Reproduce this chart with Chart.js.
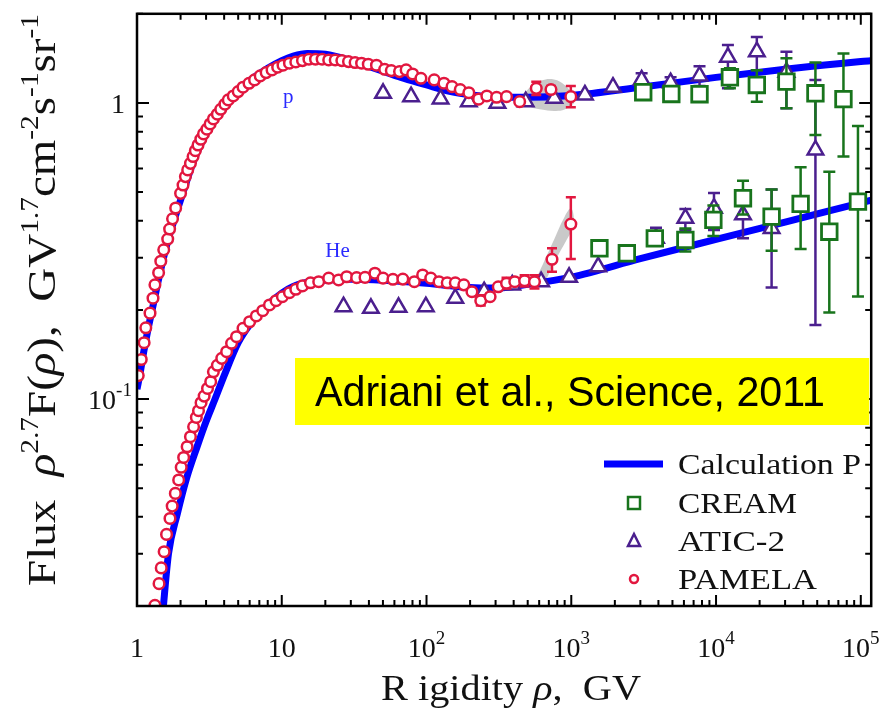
<!DOCTYPE html>
<html>
<head>
<meta charset="utf-8">
<title>Proton and helium flux</title>
<script src="https://cdn.jsdelivr.net/npm/chart.js@4.4.1/dist/chart.umd.min.js"></script>
<style>
  html, body { margin: 0; padding: 0; background: #fff; }
  canvas { display: block; }
</style>
</head>
<body>
<canvas id="chart" width="885" height="708"></canvas>
<script>
// ---- data ----
const xMin = 1, xMax = 1.18e5, yMin = 0.02, yMax = 2;

const xTickLabels = ['1', '10', '10|2', '10|3', '10|4', '10|5'];
const yTickLabels = ['10|-1', '1'];

// calculation curves
const calcPX = [1.0, 1.05, 1.1, 1.2, 1.3, 1.4, 1.6, 1.8, 2, 2.5, 3, 4, 5, 6, 8, 10, 12, 15, 20, 30, 50, 70, 100, 150, 200, 300, 500, 1000, 3000, 10000, 30000, 100000, 120000];
const calcPY = [0.108, 0.122, 0.14, 0.175, 0.21, 0.25, 0.33, 0.40, 0.47, 0.65, 0.79, 0.98, 1.10, 1.19, 1.31, 1.39, 1.44, 1.47, 1.46, 1.39, 1.28, 1.21, 1.15, 1.09, 1.065, 1.045, 1.045, 1.06, 1.13, 1.22, 1.30, 1.38, 1.39];
const calcHeX = [1.5, 1.65, 1.9, 2.2, 2.6, 3, 3.46, 4, 5, 6, 8, 10, 12, 15, 20, 30, 50, 100, 200, 300, 500, 1000, 3000, 10000, 30000, 100000, 120000];
const calcHeY = [0.0185, 0.030, 0.041, 0.054, 0.069, 0.084, 0.10, 0.12, 0.155, 0.178, 0.208, 0.228, 0.240, 0.248, 0.252, 0.254, 0.252, 0.246, 0.238, 0.237, 0.244, 0.258, 0.298, 0.346, 0.396, 0.46, 0.47];

// PAMELA
const pamelaPX = [1.02, 1.07, 1.12, 1.15, 1.23, 1.29, 1.33, 1.41, 1.46, 1.53, 1.63, 1.68, 1.76, 1.85, 2.00, 2.08, 2.16, 2.24, 2.34, 2.44, 2.53, 2.64, 2.76, 2.88, 3.04, 3.20, 3.37, 3.59, 3.79, 4.05, 4.27, 4.62, 5.00, 5.40, 5.94, 6.49, 7.10, 7.80, 8.57, 9.37, 10.2, 11.3, 12.5, 13.9, 15.4, 17.1, 19.0, 21.1, 23.4, 26.0, 28.9, 32.1, 35.6, 39.6, 45.1, 51.4, 57.1, 65.1, 72.3, 80.2, 91.5, 113, 132, 150, 171, 196, 229, 261, 305, 357, 440, 573, 724, 993];
const pamelaPY = [0.120, 0.136, 0.155, 0.174, 0.195, 0.219, 0.243, 0.267, 0.292, 0.319, 0.347, 0.375, 0.406, 0.442, 0.495, 0.528, 0.564, 0.594, 0.625, 0.659, 0.690, 0.721, 0.754, 0.786, 0.815, 0.849, 0.883, 0.916, 0.952, 0.990, 1.024, 1.056, 1.092, 1.130, 1.165, 1.196, 1.234, 1.266, 1.293, 1.320, 1.341, 1.362, 1.375, 1.390, 1.405, 1.405, 1.405, 1.397, 1.397, 1.390, 1.379, 1.369, 1.362, 1.351, 1.341, 1.299, 1.286, 1.276, 1.293, 1.253, 1.211, 1.196, 1.166, 1.135, 1.110, 1.083, 1.030, 1.056, 1.045, 1.050, 1.010, 1.120, 1.110, 1.050];
const pamelaPErrX = [573, 724, 993];
const pamelaPErrLo = [1.064, 1.08, 0.967];
const pamelaPErrHi = [1.18, 1.14, 1.14];

const pamelaHeX = [1.33, 1.42, 1.47, 1.54, 1.60, 1.69, 1.75, 1.84, 1.94, 2.02, 2.10, 2.22, 2.34, 2.46, 2.57, 2.66, 2.77, 2.91, 3.07, 3.23, 3.37, 3.59, 3.85, 4.16, 4.50, 4.87, 5.40, 6.00, 6.67, 7.39, 8.22, 9.13, 10.1, 11.3, 12.5, 13.9, 15.8, 18.0, 21.1, 24.7, 28.1, 32.9, 37.6, 44.0, 50.1, 58.6, 68.6, 82.4, 94, 107, 122, 139, 158, 181, 206, 237, 275, 313, 357, 407, 476, 557, 736, 993];
const pamelaHeY = [0.0201, 0.0238, 0.0269, 0.0305, 0.0349, 0.0395, 0.0435, 0.048, 0.0533, 0.0588, 0.0635, 0.069, 0.0746, 0.0806, 0.0867, 0.0913, 0.0972, 0.1023, 0.1086, 0.1144, 0.1236, 0.130, 0.1372, 0.1445, 0.1543, 0.1624, 0.1733, 0.1824, 0.1908, 0.1987, 0.2078, 0.2148, 0.2216, 0.2286, 0.2348, 0.241, 0.247, 0.249, 0.256, 0.2524, 0.2588, 0.257, 0.2575, 0.266, 0.256, 0.2538, 0.2541, 0.249, 0.2624, 0.256, 0.249, 0.247, 0.247, 0.243, 0.2304, 0.2148, 0.2216, 0.2394, 0.246, 0.249, 0.251, 0.249, 0.2965, 0.390];
const pamelaHeErrX = [237, 357, 476, 557, 736, 993];
const pamelaHeErrLo = [0.207, 0.236, 0.240, 0.236, 0.269, 0.297];
const pamelaHeErrHi = [0.224, 0.257, 0.262, 0.262, 0.323, 0.480];

// ATIC-2
const aticPX = [50.1, 78.2, 125, 196, 309, 484, 763, 1242, 1941, 3062, 4853, 7690, 12080, 19130, 30640, 48600];
const aticPY = [1.078, 1.05, 1.032, 1.01, 0.998, 1.01, 1.037, 1.064, 1.13, 1.196, 1.171, 1.234, 1.427, 1.49, 1.27, 0.694];
const aticPErrX = [3062, 4853, 7690, 12080, 19130, 30640, 48600];
const aticPErrLo = [1.14, 1.12, 1.14, 1.12, 1.29, 0.96, 0.178];
const aticPErrHi = [1.26, 1.22, 1.33, 1.57, 1.67, 1.49, 1.196];

const aticHeX = [26.7, 41.3, 64.1, 98.9, 158, 250, 391, 619, 966, 1534, 3850, 6140, 9680, 15350, 24200];
const aticHeY = [0.205, 0.2024, 0.204, 0.205, 0.219, 0.2304, 0.2428, 0.249, 0.2577, 0.280, 0.349, 0.408, 0.441, 0.419, 0.377];
const aticHeErrX = [3850, 6140, 9680, 15350, 24200];
const aticHeErrLo = [0.33, 0.372, 0.372, 0.349, 0.238];
const aticHeErrHi = [0.379, 0.438, 0.496, 0.47, 0.51];

// CREAM
const creamPX = [3141, 4910, 7690, 12470, 19130, 30640, 48600, 75900];
const creamPY = [1.087, 1.072, 1.07, 1.221, 1.15, 1.18, 1.078, 1.03];
const creamPErrX = [7690, 12470, 19130, 30640, 48600, 75900];
const creamPErrLo = [1.01, 1.12, 1.01, 0.96, 0.78, 0.659];
const creamPErrHi = [1.12, 1.31, 1.29, 1.415, 1.37, 1.47];

const creamHeX = [1565, 2420, 3776, 6140, 9585, 15350, 24200, 38400, 60600, 95600];
const creamHeY = [0.323, 0.3106, 0.349, 0.3445, 0.4027, 0.4766, 0.413, 0.456, 0.3674, 0.464];
const creamHeErrX = [6140, 9585, 15350, 24200, 38400, 60600, 95600];
const creamHeErrLo = [0.315, 0.355, 0.42, 0.317, 0.321, 0.196, 0.222];
const creamHeErrHi = [0.377, 0.45, 0.546, 0.51, 0.606, 0.586, 0.836];

// grey systematic bands around 1 TV
const bandPX = [440, 520, 620, 760, 900, 1050];
const bandPLo = [1.03, 0.97, 0.95, 0.94, 0.95, 1.0];
const bandPHi = [1.03, 1.13, 1.19, 1.2, 1.15, 1.06];
const bandHeX = [560, 640, 760, 900, 1000, 1060];
const bandHeLo = [0.25, 0.247, 0.289, 0.335, 0.368, 0.39];
const bandHeHi = [0.25, 0.287, 0.345, 0.413, 0.44, 0.39];

const legendLabels = ['Calculation P', 'CREAM', 'ATIC-2', 'PAMELA'];

// ---- styling ----
const BLUE = '#0000ff', RED = '#e2173f', PURPLE = '#4b1f8e', GREEN = '#18741c', GREY = 'rgba(165,165,165,0.6)';
const SERIF = '"Liberation Serif", "Times New Roman", serif';

const pts = (xs, ys) => xs.map((x, i) => ({ x: x, y: ys[i] }));

function curve(xs, ys) {
  return {
    data: pts(xs, ys), showLine: true, borderColor: BLUE, borderWidth: 7,
    pointRadius: 0, cubicInterpolationMode: 'monotone', order: 9
  };
}
function band(xs, ys, fill) {
  return {
    data: pts(xs, ys), showLine: true, borderWidth: 0, borderColor: 'rgba(0,0,0,0)',
    pointRadius: 0, tension: 0.4, backgroundColor: GREY, fill: fill, order: 10
  };
}
function markers(xs, ys, style, color, radius, width, ex, lo, hi, cap, order) {
  return {
    data: pts(xs, ys), pointStyle: style, pointRadius: radius, pointBorderWidth: width, borderWidth: width,
    borderColor: color, pointBorderColor: color, pointBackgroundColor: '#ffffff', backgroundColor: '#ffffff',
    order: order, errorBars: { x: ex, lo: lo, hi: hi, cap: cap }
  };
}

// error bars go under each dataset's own markers
const errorBarPlugin = {
  id: 'errorBars',
  beforeDatasetDraw(chart, args) {
    const ds = chart.data.datasets[args.index];
    if (!ds.errorBars) return;
    const { ctx, chartArea: a } = chart;
    const sx = chart.scales.x, sy = chart.scales.y;
    const e = ds.errorBars;
    ctx.save();
    ctx.beginPath();
    ctx.rect(a.left, a.top, a.right - a.left, a.bottom - a.top);
    ctx.clip();
    ctx.strokeStyle = ds.borderColor;
    ctx.lineWidth = 2.5;
    e.x.forEach((v, i) => {
      const px = sx.getPixelForValue(v);
      const y1 = sy.getPixelForValue(e.lo[i]);
      const y2 = sy.getPixelForValue(e.hi[i]);
      ctx.beginPath();
      ctx.moveTo(px, y1); ctx.lineTo(px, y2);
      ctx.moveTo(px - e.cap, y1); ctx.lineTo(px + e.cap, y1);
      ctx.moveTo(px - e.cap, y2); ctx.lineTo(px + e.cap, y2);
      ctx.stroke();
    });
    ctx.restore();
  }
};

// rich text: parts are [text, sizeFactor, italic, raise]
function richWidth(ctx, parts, size) {
  let w = 0;
  parts.forEach(p => {
    ctx.font = (p[2] ? 'italic ' : '') + Math.round(size * p[1]) + 'px ' + SERIF;
    w += ctx.measureText(p[0]).width;
  });
  return w;
}
function drawRich(ctx, parts, x, y, size, stretch) {
  ctx.save();
  ctx.translate(x, y);
  ctx.scale(stretch, 1);
  let cx = 0;
  parts.forEach(p => {
    ctx.font = (p[2] ? 'italic ' : '') + Math.round(size * p[1]) + 'px ' + SERIF;
    ctx.fillText(p[0], cx, -(p[3] || 0) * size);
    cx += ctx.measureText(p[0]).width;
  });
  ctx.restore();
}
function tickParts(label) {
  const s = label.split('|');
  return s.length > 1 ? [[s[0], 1], [s[1], 0.68, false, 0.45]] : [[s[0], 1]];
}
function stretchedText(ctx, text, x, y, font, width) {
  ctx.font = font;
  const k = width / ctx.measureText(text).width;
  ctx.save();
  ctx.translate(x, y);
  ctx.scale(k, 1);
  ctx.fillText(text, 0, 0);
  ctx.restore();
}

const decorPlugin = {
  id: 'decor',
  afterDatasetsDraw(chart) {
    const { ctx, chartArea: a } = chart;
    const sx = chart.scales.x, sy = chart.scales.y;
    ctx.save();

    // frame
    ctx.strokeStyle = '#000';
    ctx.lineWidth = 2.5;
    ctx.strokeRect(a.left, a.top, a.right - a.left, a.bottom - a.top);

    // inward ticks on all four sides
    ctx.lineWidth = 2;
    ctx.beginPath();
    for (let d = 0; d <= 5; d++) {
      for (let m = 1; m <= 9; m++) {
        const v = m * Math.pow(10, d);
        if (v > xMax) break;
        const px = sx.getPixelForValue(v);
        const len = m === 1 ? 11 : 6;
        ctx.moveTo(px, a.bottom); ctx.lineTo(px, a.bottom - len);
        ctx.moveTo(px, a.top); ctx.lineTo(px, a.top + len);
      }
    }
    for (let d = -2; d <= 0; d++) {
      for (let m = 1; m <= 9; m++) {
        const v = m * Math.pow(10, d);
        if (v < yMin || v > yMax) continue;
        const py = sy.getPixelForValue(v);
        const len = m === 1 ? 12 : 6;
        ctx.moveTo(a.left, py); ctx.lineTo(a.left + len, py);
        ctx.moveTo(a.right, py); ctx.lineTo(a.right - len, py);
      }
    }
    ctx.stroke();

    // tick labels
    ctx.fillStyle = '#111';
    ctx.textBaseline = 'alphabetic';
    xTickLabels.forEach((lab, d) => {
      const parts = tickParts(lab);
      const w = richWidth(ctx, parts, 28);
      const px = sx.getPixelForValue(Math.pow(10, d));
      drawRich(ctx, parts, px - w / 2, 657, 28, 1);
    });
    yTickLabels.forEach((lab, i) => {
      const parts = tickParts(lab);
      const w = richWidth(ctx, parts, 28);
      const py = sy.getPixelForValue(Math.pow(10, i - 1));
      const cx = i === 1 ? 118 : 110;
      drawRich(ctx, parts, cx - w / 2, py + 10, 28, 1);
    });

    // axis titles
    const xTitle = [['R igidity ', 1], ['\u03c1', 1, true], [',  GV', 1]];
    const xw = richWidth(ctx, xTitle, 36);
    drawRich(ctx, xTitle, 381, 700, 36, 260 / xw);

    const yTitle = [['Flux  ', 1], ['\u03c1', 1, true], ['2.7', 0.62, false, 0.42], ['F(', 1], ['\u03c1', 1, true],
      ['),  GV', 1], ['1.7', 0.62, false, 0.42], ['cm', 1], ['-2', 0.62, false, 0.42], ['s', 1],
      ['-1', 0.62, false, 0.42], ['sr', 1], ['-1', 0.62, false, 0.42]];
    const yw = richWidth(ctx, yTitle, 40);
    ctx.save();
    ctx.translate(55, 586);
    ctx.rotate(-Math.PI / 2);
    drawRich(ctx, yTitle, 0, 0, 40, 572 / yw);
    ctx.restore();

    // curve labels
    ctx.fillStyle = '#2a2aff';
    ctx.font = '21px "Liberation Serif", serif';
    ctx.textAlign = 'center';
    ctx.textBaseline = 'middle';
    ctx.fillText('p', sx.getPixelForValue(11.1), sy.getPixelForValue(1.04));
    ctx.fillText('He', sx.getPixelForValue(24.3), sy.getPixelForValue(0.316));
    ctx.textAlign = 'left';
    ctx.textBaseline = 'alphabetic';

    // citation box
    ctx.fillStyle = '#ffff00';
    ctx.fillRect(295, 358, a.right - 295 - 2, 67);
    ctx.fillStyle = '#000';
    stretchedText(ctx, 'Adriani et al., Science, 2011', 315, 406, '42px "Liberation Sans", Arial, sans-serif', 510);

    // legend
    const rows = [464, 503, 541, 579];
    const widths = [183, 119, 107, 139];
    const mx = 634;
    ctx.strokeStyle = BLUE;
    ctx.lineWidth = 7;
    ctx.beginPath(); ctx.moveTo(604, rows[0]); ctx.lineTo(663, rows[0]); ctx.stroke();

    ctx.lineWidth = 2.5;
    ctx.strokeStyle = GREEN;
    ctx.strokeRect(mx - 6, rows[1] - 6, 12, 12);

    ctx.strokeStyle = PURPLE;
    ctx.beginPath();
    ctx.moveTo(mx, rows[2] - 7); ctx.lineTo(mx + 6, rows[2] + 5); ctx.lineTo(mx - 6, rows[2] + 5); ctx.closePath();
    ctx.stroke();

    ctx.strokeStyle = RED;
    ctx.beginPath(); ctx.arc(mx, rows[3], 4, 0, Math.PI * 2); ctx.stroke();

    ctx.fillStyle = '#111';
    legendLabels.forEach((t, i) => {
      stretchedText(ctx, t, 678, rows[i] + 10, '30px ' + SERIF, widths[i]);
    });

    ctx.restore();
  }
};

const datasets = [
  markers(pamelaPX, pamelaPY, 'circle', RED, 5.3, 2.5, pamelaPErrX, pamelaPErrLo, pamelaPErrHi, 5, 1),
  markers(pamelaHeX, pamelaHeY, 'circle', RED, 5.3, 2.5, pamelaHeErrX, pamelaHeErrLo, pamelaHeErrHi, 5, 1),
  markers(creamPX, creamPY, 'rect', GREEN, 11, 2.8, creamPErrX, creamPErrLo, creamPErrHi, 6, 2),
  markers(creamHeX, creamHeY, 'rect', GREEN, 11, 2.8, creamHeErrX, creamHeErrLo, creamHeErrHi, 6, 2),
  markers(aticPX, aticPY, 'triangle', PURPLE, 9, 2.5, aticPErrX, aticPErrLo, aticPErrHi, 6, 3),
  markers(aticHeX, aticHeY, 'triangle', PURPLE, 9, 2.5, aticHeErrX, aticHeErrLo, aticHeErrHi, 6, 3),
  curve(calcPX, calcPY),
  curve(calcHeX, calcHeY),
  band(bandPX, bandPLo, false),
  band(bandPX, bandPHi, '-1'),
  band(bandHeX, bandHeLo, false),
  band(bandHeX, bandHeHi, '-1')
];

new Chart(document.getElementById('chart'), {
  type: 'scatter',
  data: { datasets: datasets },
  options: {
    responsive: false,
    animation: false,
    events: [],
    layout: { padding: { left: 137, top: 13, right: 5, bottom: 102 } },
    plugins: { legend: { display: false }, tooltip: { enabled: false } },
    scales: {
      x: { type: 'logarithmic', min: xMin, max: xMax, display: false },
      y: { type: 'logarithmic', min: yMin, max: yMax, display: false }
    }
  },
  plugins: [errorBarPlugin, decorPlugin]
});
</script>
</body>
</html>
